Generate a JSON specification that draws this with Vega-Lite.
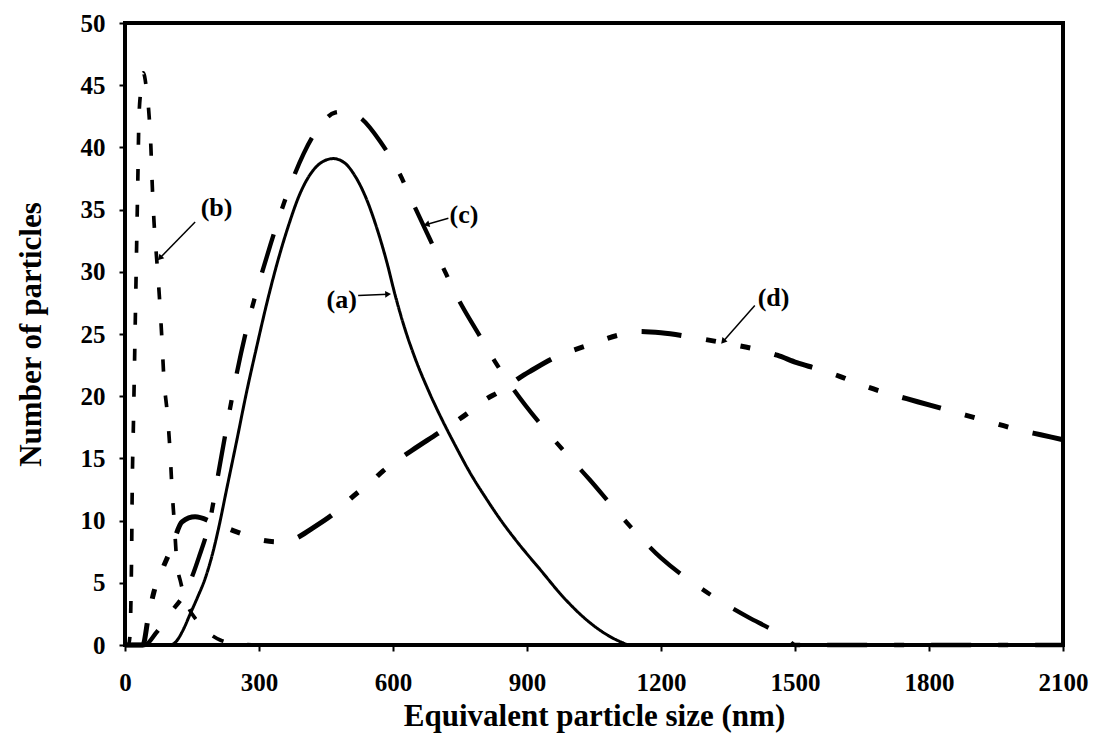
{
  "$schema": "https://vega.github.io/schema/vega-lite/v6.json",
  "width": 938,
  "height": 622,
  "autosize": {"type": "none"},
  "padding": {"left": 125, "top": 23, "right": 41, "bottom": 104},
  "background": "white",
  "config": {
    "view": {"stroke": "black", "strokeWidth": 4},
    "font": "Liberation Serif",
    "axis": {
      "domain": false,
      "grid": false,
      "ticks": true,
      "tickColor": "black",
      "tickWidth": 2,
      "tickSize": 6,
      "labelFont": "Liberation Serif",
      "labelFontSize": 25,
      "labelFontWeight": "bold",
      "labelColor": "black",
      "labelFlush": false,
      "labelOverlap": false,
      "format": "d",
      "titleFont": "Liberation Serif",
      "titleFontSize": 31,
      "titleFontWeight": "bold",
      "titleColor": "black"
    },
    "axisX": {"labelPadding": 19, "titlePadding": 6},
    "axisY": {"labelPadding": 14, "titlePadding": 33}
  },
  "datasets": {
    "curves": [
      {"series": "a", "x": 0, "y": 0}, {"series": "a", "x": 100, "y": 0}, {"series": "a", "x": 115, "y": 0.3}, {"series": "a", "x": 130, "y": 1.2}, {"series": "a", "x": 146, "y": 2.5}, {"series": "a", "x": 162, "y": 3.8}, {"series": "a", "x": 179, "y": 5.3}, {"series": "a", "x": 195, "y": 7.2}, {"series": "a", "x": 209, "y": 9.3}, {"series": "a", "x": 228, "y": 12.6}, {"series": "a", "x": 250, "y": 16.4}, {"series": "a", "x": 272, "y": 20.3}, {"series": "a", "x": 295, "y": 24.0}, {"series": "a", "x": 317, "y": 27.4}, {"series": "a", "x": 340, "y": 30.6}, {"series": "a", "x": 365, "y": 33.6}, {"series": "a", "x": 392, "y": 36.3}, {"series": "a", "x": 420, "y": 38.1}, {"series": "a", "x": 445, "y": 38.9}, {"series": "a", "x": 466, "y": 39.1}, {"series": "a", "x": 490, "y": 38.8}, {"series": "a", "x": 515, "y": 37.7}, {"series": "a", "x": 540, "y": 35.9}, {"series": "a", "x": 563, "y": 33.6}, {"series": "a", "x": 586, "y": 30.8}, {"series": "a", "x": 605, "y": 28.1}, {"series": "a", "x": 625, "y": 25.6}, {"series": "a", "x": 650, "y": 23.0}, {"series": "a", "x": 680, "y": 20.4}, {"series": "a", "x": 710, "y": 18.1}, {"series": "a", "x": 740, "y": 16.0}, {"series": "a", "x": 770, "y": 14.0}, {"series": "a", "x": 810, "y": 11.7}, {"series": "a", "x": 840, "y": 10.1}, {"series": "a", "x": 880, "y": 8.2}, {"series": "a", "x": 931, "y": 6.0}, {"series": "a", "x": 980, "y": 3.9}, {"series": "a", "x": 1034, "y": 2.0}, {"series": "a", "x": 1080, "y": 0.8}, {"series": "a", "x": 1110, "y": 0.25}, {"series": "a", "x": 1130, "y": 0}, {"series": "a", "x": 2100, "y": 0},
      {"series": "b", "x": 0, "y": 0}, {"series": "b", "x": 8, "y": 0}, {"series": "b", "x": 11, "y": 0.7}, {"series": "b", "x": 13, "y": 3}, {"series": "b", "x": 15, "y": 8}, {"series": "b", "x": 16, "y": 12}, {"series": "b", "x": 19, "y": 18}, {"series": "b", "x": 22, "y": 24}, {"series": "b", "x": 25, "y": 30}, {"series": "b", "x": 27, "y": 34}, {"series": "b", "x": 29, "y": 38}, {"series": "b", "x": 31, "y": 42}, {"series": "b", "x": 35, "y": 44.5}, {"series": "b", "x": 41, "y": 46}, {"series": "b", "x": 47, "y": 45}, {"series": "b", "x": 53, "y": 43}, {"series": "b", "x": 58, "y": 40}, {"series": "b", "x": 61, "y": 37}, {"series": "b", "x": 65, "y": 34}, {"series": "b", "x": 71, "y": 31}, {"series": "b", "x": 77, "y": 28}, {"series": "b", "x": 82, "y": 25}, {"series": "b", "x": 87, "y": 21.5}, {"series": "b", "x": 95, "y": 18.5}, {"series": "b", "x": 101, "y": 15.5}, {"series": "b", "x": 105, "y": 12.7}, {"series": "b", "x": 110, "y": 10}, {"series": "b", "x": 116, "y": 6.7}, {"series": "b", "x": 125, "y": 5.0}, {"series": "b", "x": 140, "y": 3.2}, {"series": "b", "x": 160, "y": 2.0}, {"series": "b", "x": 183, "y": 1.1}, {"series": "b", "x": 213, "y": 0.4}, {"series": "b", "x": 250, "y": 0.1}, {"series": "b", "x": 300, "y": 0}, {"series": "b", "x": 2100, "y": 0},
      {"series": "c", "x": 0, "y": 0}, {"series": "c", "x": 44, "y": 0}, {"series": "c", "x": 70, "y": 1.0}, {"series": "c", "x": 100, "y": 2.5}, {"series": "c", "x": 140, "y": 4.6}, {"series": "c", "x": 165, "y": 7.0}, {"series": "c", "x": 190, "y": 10.0}, {"series": "c", "x": 210, "y": 14.0}, {"series": "c", "x": 230, "y": 18.0}, {"series": "c", "x": 250, "y": 21.8}, {"series": "c", "x": 275, "y": 25.8}, {"series": "c", "x": 300, "y": 29.1}, {"series": "c", "x": 325, "y": 32.1}, {"series": "c", "x": 350, "y": 34.9}, {"series": "c", "x": 375, "y": 37.4}, {"series": "c", "x": 400, "y": 39.5}, {"series": "c", "x": 440, "y": 41.9}, {"series": "c", "x": 470, "y": 42.8}, {"series": "c", "x": 500, "y": 42.9}, {"series": "c", "x": 530, "y": 42.3}, {"series": "c", "x": 571, "y": 40.5}, {"series": "c", "x": 616, "y": 37.8}, {"series": "c", "x": 645, "y": 35.5}, {"series": "c", "x": 683, "y": 32.6}, {"series": "c", "x": 714, "y": 30.2}, {"series": "c", "x": 745, "y": 27.9}, {"series": "c", "x": 795, "y": 24.8}, {"series": "c", "x": 828, "y": 22.8}, {"series": "c", "x": 869, "y": 20.6}, {"series": "c", "x": 941, "y": 17.3}, {"series": "c", "x": 990, "y": 15.3}, {"series": "c", "x": 1040, "y": 13.3}, {"series": "c", "x": 1102, "y": 10.7}, {"series": "c", "x": 1150, "y": 8.8}, {"series": "c", "x": 1200, "y": 7.0}, {"series": "c", "x": 1272, "y": 5.0}, {"series": "c", "x": 1330, "y": 3.6}, {"series": "c", "x": 1397, "y": 2.2}, {"series": "c", "x": 1440, "y": 1.4}, {"series": "c", "x": 1480, "y": 0.6}, {"series": "c", "x": 1500, "y": 0}, {"series": "c", "x": 2100, "y": 0},
      {"series": "d", "x": 0, "y": 0}, {"series": "d", "x": 40, "y": 0}, {"series": "d", "x": 52, "y": 2.2}, {"series": "d", "x": 65, "y": 4.3}, {"series": "d", "x": 85, "y": 6.2}, {"series": "d", "x": 103, "y": 7.7}, {"series": "d", "x": 128, "y": 9.9}, {"series": "d", "x": 157, "y": 10.3}, {"series": "d", "x": 200, "y": 9.8}, {"series": "d", "x": 250, "y": 9.1}, {"series": "d", "x": 311, "y": 8.4}, {"series": "d", "x": 340, "y": 8.3}, {"series": "d", "x": 373, "y": 8.45}, {"series": "d", "x": 420, "y": 9.4}, {"series": "d", "x": 469, "y": 10.6}, {"series": "d", "x": 519, "y": 12.2}, {"series": "d", "x": 545, "y": 12.9}, {"series": "d", "x": 578, "y": 14.0}, {"series": "d", "x": 604, "y": 14.7}, {"series": "d", "x": 649, "y": 15.8}, {"series": "d", "x": 700, "y": 17.0}, {"series": "d", "x": 766, "y": 18.6}, {"series": "d", "x": 810, "y": 19.8}, {"series": "d", "x": 835, "y": 20.3}, {"series": "d", "x": 884, "y": 21.5}, {"series": "d", "x": 907, "y": 22.0}, {"series": "d", "x": 956, "y": 23.0}, {"series": "d", "x": 1045, "y": 24.2}, {"series": "d", "x": 1104, "y": 24.9}, {"series": "d", "x": 1150, "y": 25.2}, {"series": "d", "x": 1200, "y": 25.1}, {"series": "d", "x": 1276, "y": 24.7}, {"series": "d", "x": 1339, "y": 24.3}, {"series": "d", "x": 1420, "y": 23.7}, {"series": "d", "x": 1460, "y": 23.3}, {"series": "d", "x": 1504, "y": 22.7}, {"series": "d", "x": 1550, "y": 22.2}, {"series": "d", "x": 1600, "y": 21.6}, {"series": "d", "x": 1650, "y": 20.9}, {"series": "d", "x": 1700, "y": 20.3}, {"series": "d", "x": 1750, "y": 19.8}, {"series": "d", "x": 1800, "y": 19.3}, {"series": "d", "x": 1850, "y": 18.8}, {"series": "d", "x": 1900, "y": 18.3}, {"series": "d", "x": 1950, "y": 17.8}, {"series": "d", "x": 2000, "y": 17.3}, {"series": "d", "x": 2050, "y": 16.9}, {"series": "d", "x": 2100, "y": 16.5}
    ],
    "labels": [
      {"label": "(a)", "x": 485, "y": 27.7},
      {"label": "(b)", "x": 205, "y": 35.1},
      {"label": "(c)", "x": 759, "y": 34.6},
      {"label": "(d)", "x": 1452, "y": 27.9}
    ],
    "arrows": [
      {"label": "(a)", "x": 522, "y": 28.1, "x2": 589, "y2": 28.2},
      {"label": "(b)", "x": 157, "y": 34.0, "x2": 78, "y2": 31.1},
      {"label": "(c)", "x": 724, "y": 34.3, "x2": 675, "y2": 33.8},
      {"label": "(d)", "x": 1410, "y": 27.3, "x2": 1339, "y2": 24.4}
    ]
  },
  "layer": [
    {
      "data": {"name": "curves"},
      "mark": {"type": "line", "color": "black", "interpolate": "monotone", "clip": false},
      "encoding": {
        "x": {
          "field": "x", "type": "quantitative",
          "scale": {"domain": [0, 2100], "nice": false},
          "axis": {"values": [0, 300, 600, 900, 1200, 1500, 1800, 2100], "format": "d"},
          "title": "Equivalent particle size (nm)"
        },
        "y": {
          "field": "y", "type": "quantitative",
          "scale": {"domain": [0, 50], "nice": false},
          "axis": {"values": [0, 5, 10, 15, 20, 25, 30, 35, 40, 45, 50], "format": "d"},
          "title": "Number of particles"
        },
        "strokeDash": {
          "field": "series", "type": "nominal", "legend": null,
          "scale": {"domain": ["a", "b", "c", "d"], "range": [[1, 0], [12, 24], [40, 27, 10, 27], [40, 25, 10, 25, 10, 25]]}
        },
        "strokeWidth": {
          "field": "series", "type": "nominal", "legend": null,
          "scale": {"domain": ["a", "b", "c", "d"], "range": [3, 5, 4, 4]}
        }
      }
    },
    {
      "data": {"name": "arrows"},
      "mark": {"type": "rule", "color": "black", "strokeWidth": 1.5},
      "encoding": {
        "x": {"field": "x", "type": "quantitative", "title": "Equivalent particle size (nm)"},
        "y": {"field": "y", "type": "quantitative", "title": "Number of particles"},
        "x2": {"field": "x2"},
        "y2": {"field": "y2"}
      }
    },
    {
      "data": {"name": "arrows"},
      "transform": [{"filter": "datum.label == '(a)'"}],
      "mark": {"type": "point", "shape": "triangle-up", "filled": true, "color": "black", "size": 45, "angle": 88, "opacity": 1},
      "encoding": {
        "x": {"field": "x2", "type": "quantitative", "title": "Equivalent particle size (nm)"},
        "y": {"field": "y2", "type": "quantitative", "title": "Number of particles"}
      }
    },
    {
      "data": {"name": "arrows"},
      "transform": [{"filter": "datum.label == '(b)'"}],
      "mark": {"type": "point", "shape": "triangle-up", "filled": true, "color": "black", "size": 45, "angle": 224, "opacity": 1},
      "encoding": {
        "x": {"field": "x2", "type": "quantitative", "title": "Equivalent particle size (nm)"},
        "y": {"field": "y2", "type": "quantitative", "title": "Number of particles"}
      }
    },
    {
      "data": {"name": "arrows"},
      "transform": [{"filter": "datum.label == '(c)'"}],
      "mark": {"type": "point", "shape": "triangle-up", "filled": true, "color": "black", "size": 45, "angle": 254, "opacity": 1},
      "encoding": {
        "x": {"field": "x2", "type": "quantitative", "title": "Equivalent particle size (nm)"},
        "y": {"field": "y2", "type": "quantitative", "title": "Number of particles"}
      }
    },
    {
      "data": {"name": "arrows"},
      "transform": [{"filter": "datum.label == '(d)'"}],
      "mark": {"type": "point", "shape": "triangle-up", "filled": true, "color": "black", "size": 45, "angle": 221, "opacity": 1},
      "encoding": {
        "x": {"field": "x2", "type": "quantitative", "title": "Equivalent particle size (nm)"},
        "y": {"field": "y2", "type": "quantitative", "title": "Number of particles"}
      }
    },
    {
      "data": {"name": "labels"},
      "mark": {"type": "text", "font": "Liberation Serif", "fontSize": 26, "fontWeight": "bold", "color": "black", "align": "center", "baseline": "middle"},
      "encoding": {
        "x": {"field": "x", "type": "quantitative", "title": "Equivalent particle size (nm)"},
        "y": {"field": "y", "type": "quantitative", "title": "Number of particles"},
        "text": {"field": "label"}
      }
    }
  ]
}
